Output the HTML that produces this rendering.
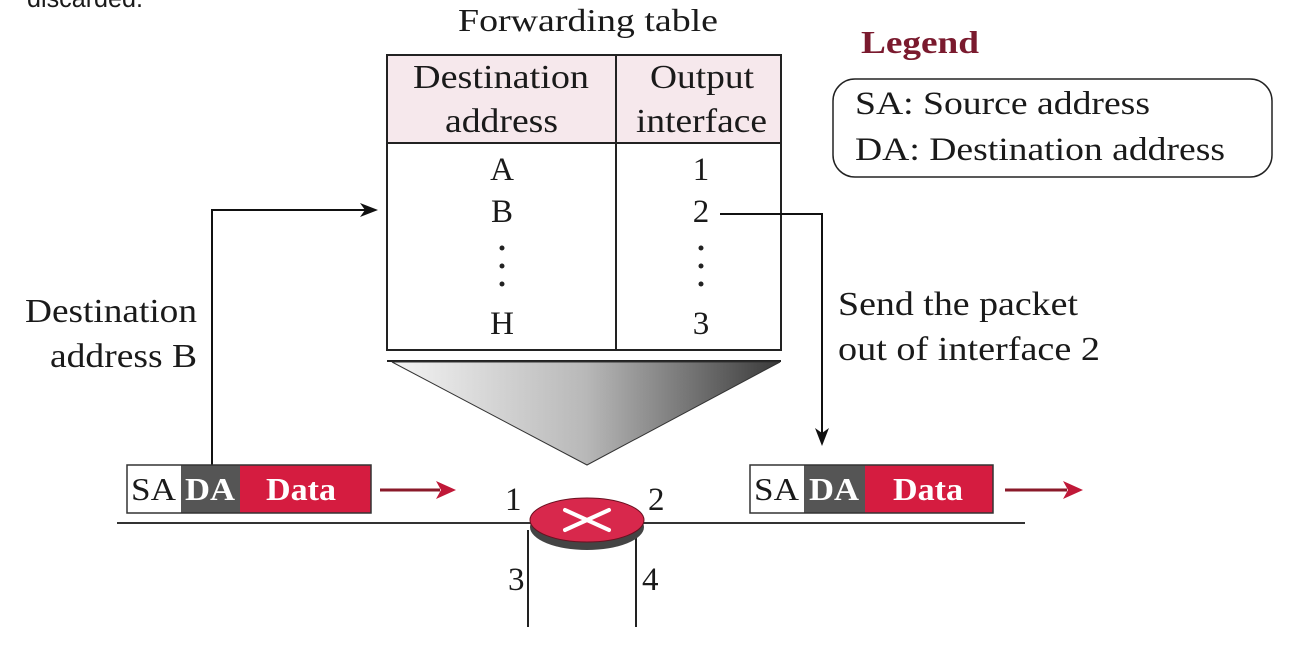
<!DOCTYPE html>
<html><head><meta charset="utf-8"><style>
html,body{margin:0;padding:0;background:#fff;}
svg{display:block;}
text{font-family:"Liberation Serif",serif;fill:#1a1a1a;}
</style></head><body>
<svg width="1300" height="668" viewBox="0 0 1300 668" xmlns="http://www.w3.org/2000/svg">
<defs>
<linearGradient id="tri" x1="0" x2="1" y1="0" y2="0">
<stop offset="0" stop-color="#f4f4f4"/><stop offset="0.5" stop-color="#b8b8b8"/><stop offset="1" stop-color="#3a3a3a"/>
</linearGradient>
</defs>
<text x="27" y="7" style="font-family:'Liberation Sans',sans-serif;font-size:26px" textLength="116" lengthAdjust="spacingAndGlyphs">discarded.</text>

<text x="458" y="31" font-size="32" textLength="260" lengthAdjust="spacingAndGlyphs">Forwarding table</text>
<!-- table -->
<rect x="387" y="55" width="229" height="88" fill="#f6e8ec"/>
<rect x="616" y="55" width="165" height="88" fill="#f6e8ec"/>
<rect x="387" y="55" width="394" height="295" fill="none" stroke="#222" stroke-width="2"/>
<line x1="616" y1="55" x2="616" y2="350" stroke="#222" stroke-width="2"/>
<line x1="387" y1="143" x2="781" y2="143" stroke="#222" stroke-width="2"/>
<line x1="387" y1="361" x2="781" y2="361" stroke="#222" stroke-width="2"/>
<text x="413" y="88" font-size="34" textLength="176" lengthAdjust="spacingAndGlyphs">Destination</text>
<text x="445" y="132" font-size="34" textLength="113" lengthAdjust="spacingAndGlyphs">address</text>
<text x="650" y="88" font-size="34" textLength="104" lengthAdjust="spacingAndGlyphs">Output</text>
<text x="636" y="132" font-size="34" textLength="131" lengthAdjust="spacingAndGlyphs">interface</text>
<g font-size="33" text-anchor="middle">
<text x="502" y="180">A</text><text x="502" y="222">B</text><text x="502" y="334">H</text>
<text x="701" y="180">1</text><text x="701" y="222">2</text><text x="701" y="334">3</text>
</g>
<g fill="#222">
<circle cx="502" cy="248" r="2.5"/><circle cx="502" cy="266" r="2.5"/><circle cx="502" cy="284" r="2.5"/>
<circle cx="701" cy="248" r="2.5"/><circle cx="701" cy="266" r="2.5"/><circle cx="701" cy="284" r="2.5"/>
</g>
<polygon points="392,362 780,362 587,465" fill="url(#tri)" stroke="#333" stroke-width="1"/>

<!-- connectors -->
<polyline points="212,465 212,210 370,210" fill="none" stroke="#111" stroke-width="2"/>
<polygon points="378,210 360,203 365,210 360,217" fill="#111"/>
<polyline points="720,214 822,214 822,437" fill="none" stroke="#111" stroke-width="2"/>
<polygon points="822,446 815,428 822,433 829,428" fill="#111"/>

<text x="25" y="322" font-size="34" textLength="172" lengthAdjust="spacingAndGlyphs">Destination</text>
<text x="50" y="367" font-size="34" textLength="147" lengthAdjust="spacingAndGlyphs">address B</text>
<text x="838" y="315" font-size="34" textLength="240" lengthAdjust="spacingAndGlyphs">Send the packet</text>
<text x="838" y="360" font-size="34" textLength="262" lengthAdjust="spacingAndGlyphs">out of interface 2</text>

<!-- legend -->
<text x="861" y="53" font-size="32" font-weight="bold" style="fill:#7a1a2e" textLength="118" lengthAdjust="spacingAndGlyphs">Legend</text>
<rect x="833" y="79" width="439" height="98" rx="22" fill="none" stroke="#222" stroke-width="1.5"/>
<text x="855" y="114" font-size="33" textLength="295" lengthAdjust="spacingAndGlyphs">SA: Source address</text>
<text x="855" y="160" font-size="33" textLength="370" lengthAdjust="spacingAndGlyphs">DA: Destination address</text>

<!-- packet 1 -->
<rect x="127" y="465" width="54" height="48" fill="#fff"/>
<rect x="181" y="465" width="59" height="48" fill="#555"/>
<rect x="240" y="465" width="131" height="48" fill="#d51c40"/>
<rect x="127" y="465" width="244" height="48" fill="none" stroke="#333" stroke-width="1.5"/>
<text x="131" y="500" font-size="32" textLength="45" lengthAdjust="spacingAndGlyphs">SA</text>
<text x="185" y="500" font-size="32" font-weight="bold" style="fill:#fff" textLength="50" lengthAdjust="spacingAndGlyphs">DA</text>
<text x="266" y="500" font-size="32" font-weight="bold" style="fill:#fff" textLength="70" lengthAdjust="spacingAndGlyphs">Data</text>
<line x1="380" y1="490" x2="440" y2="490" stroke="#8a1a2a" stroke-width="3"/>
<polygon points="456,490 436,481 441,490 436,499" fill="#c01838"/>
<!-- packet 2 -->
<rect x="750" y="465" width="54" height="48" fill="#fff"/>
<rect x="804" y="465" width="61" height="48" fill="#555"/>
<rect x="865" y="465" width="128" height="48" fill="#d51c40"/>
<rect x="750" y="465" width="243" height="48" fill="none" stroke="#333" stroke-width="1.5"/>
<text x="754" y="500" font-size="32" textLength="45" lengthAdjust="spacingAndGlyphs">SA</text>
<text x="809" y="500" font-size="32" font-weight="bold" style="fill:#fff" textLength="50" lengthAdjust="spacingAndGlyphs">DA</text>
<text x="893" y="500" font-size="32" font-weight="bold" style="fill:#fff" textLength="70" lengthAdjust="spacingAndGlyphs">Data</text>
<line x1="1005" y1="490" x2="1067" y2="490" stroke="#8a1a2a" stroke-width="3"/>
<polygon points="1083,490 1063,481 1068,490 1063,499" fill="#c01838"/>

<!-- network line & router -->
<line x1="117" y1="523" x2="1025" y2="523" stroke="#333" stroke-width="2"/>
<line x1="528" y1="530" x2="528" y2="627" stroke="#222" stroke-width="2"/>
<line x1="636" y1="530" x2="636" y2="627" stroke="#222" stroke-width="2"/>
<ellipse cx="587" cy="527" rx="57" ry="23" fill="#444"/>
<ellipse cx="587" cy="520" rx="57" ry="22" fill="#d8284c" stroke="#6a1020" stroke-width="1"/>
<g stroke="#fff" stroke-width="4" stroke-linecap="round">
<line x1="565" y1="510" x2="609" y2="530"/><line x1="565" y1="530" x2="609" y2="510"/>
</g>
<g font-size="33">
<text x="505" y="510">1</text><text x="648" y="510">2</text>
<text x="508" y="590">3</text><text x="642" y="590">4</text>
</g>
</svg>
</body></html>
